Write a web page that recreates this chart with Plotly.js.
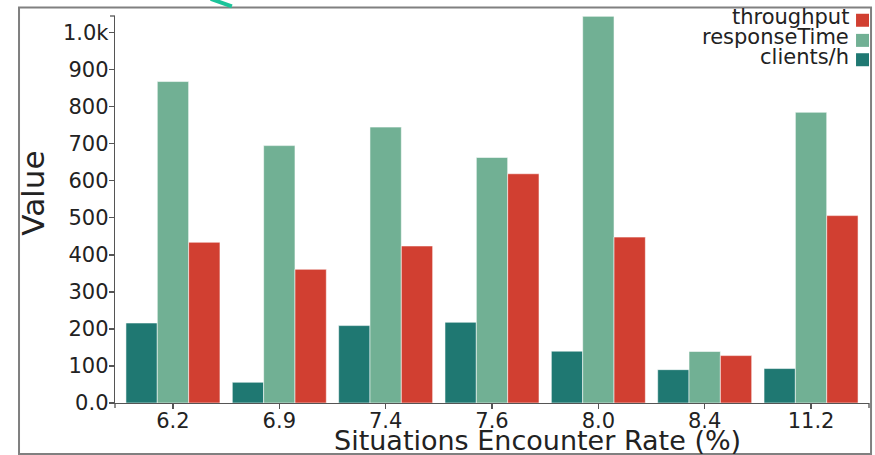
<!DOCTYPE html>
<html>
<head>
<meta charset="utf-8">
<script src="https://cdn.plot.ly/plotly-3.0.1.min.js"></script>
<style>html,body{margin:0;padding:0;background:#fff;}#chart{width:875px;height:455px;}</style>
</head>
<body>
<div id="chart"></div>
<script>
// ---- data ----
const categories = ['6.2', '6.9', '7.4', '7.6', '8.0', '8.4', '11.2'];
const seriesNames = ['clients/h', 'responseTime', 'throughput'];
const clientsPerHour = [216, 56, 209, 218, 140, 90, 93];
const responseTime = [868, 695, 745, 663, 1044, 139, 785];
const throughput = [434, 361, 424, 619, 448, 128, 506];
const seriesColors = ['#1f7872', '#71b094', '#d13f31'];
const yTickVals = [0, 100, 200, 300, 400, 500, 600, 700, 800, 900, 1000];
const yTickText = ['0.0', '100', '200', '300', '400', '500', '600', '700', '800', '900', '1.0k'];
const xTitle = 'Situations Encounter Rate (%)';
const yTitle = 'Value';

const seriesValues = [clientsPerHour, responseTime, throughput];
const FONT = 'DejaVu Sans, sans-serif';
const TXT = '#222222';
const AX = '#555555';

const traces = seriesNames.map((name, i) => ({
  type: 'bar',
  name: name,
  x: categories,
  y: seriesValues[i],
  marker: {color: seriesColors[i], line: {color: 'rgba(255,255,255,0.55)', width: 1}},
  hoverinfo: 'skip'
}));

// legend drawn as annotations + swatches (swatch to the right of text, reversed order)
const legendRowY = [0.997, 0.945, 0.895];
const annotations = [];
const shapes = [];
const legendOrder = [2, 1, 0];
legendOrder.forEach((si, r) => {
  annotations.push({
    xref: 'paper', yref: 'paper', x: 0.976, y: legendRowY[r],
    xanchor: 'right', yanchor: 'middle', showarrow: false,
    text: seriesNames[si], font: {family: FONT, size: 21, color: TXT}
  });
  shapes.push({
    type: 'rect', xref: 'paper', yref: 'paper',
    xsizemode: 'pixel', ysizemode: 'pixel',
    xanchor: 0.9828, yanchor: legendRowY[r] - 0.008,
    x0: 0, x1: 13, y0: -6.5, y1: 6.5,
    fillcolor: seriesColors[si], line: {width: 0}
  });
});

annotations.push({
  xref: 'paper', yref: 'paper', x: 0.561, y: -0.098,
  xanchor: 'center', yanchor: 'middle', showarrow: false,
  text: xTitle, font: {family: FONT, size: 27, color: TXT}
});
annotations.push({
  xref: 'paper', yref: 'paper', x: -0.109, y: 0.543,
  xanchor: 'center', yanchor: 'middle', showarrow: false, textangle: -90,
  text: yTitle, font: {family: FONT, size: 31, color: TXT}
});

// outer frame
shapes.push({
  type: 'rect', xref: 'paper', yref: 'paper', layer: 'below',
  x0: -0.1273, x1: 1.0027, y0: -0.1318, y1: 1.0220,
  line: {color: '#808080', width: 2}, fillcolor: 'rgba(0,0,0,0)'
});
// outer ticks at axis ends
shapes.push({type: 'line', xref: 'paper', yref: 'paper', xsizemode: 'pixel', xanchor: 0,
  x0: -5, x1: 0, y0: 1, y1: 1, line: {color: AX, width: 1.3}});
shapes.push({type: 'line', xref: 'paper', yref: 'paper', ysizemode: 'pixel', yanchor: 0,
  x0: 0, x1: 0, y0: 0, y1: -5, line: {color: AX, width: 1.3}});
shapes.push({type: 'line', xref: 'paper', yref: 'paper', ysizemode: 'pixel', yanchor: 0,
  x0: 1, x1: 1, y0: 0, y1: -5, line: {color: AX, width: 1.3}});
// stray green arrow fragment at top edge
shapes.push({type: 'line', xref: 'paper', yref: 'paper',
  x0: 0.127, x1: 0.155, y0: 1.044, y1: 1.025, line: {color: '#1cc49a', width: 4}});

const layout = {
  width: 875, height: 455,
  margin: {l: 115, r: 6, t: 16, b: 52, pad: 0},
  paper_bgcolor: '#ffffff', plot_bgcolor: '#ffffff',
  font: {family: FONT, color: TXT, size: 21},
  showlegend: false,
  barmode: 'group', bargap: 0.116, bargroupgap: 0,
  xaxis: {
    type: 'category', range: [-0.545, 6.545],
    showline: true, linecolor: AX, linewidth: 1.3,
    ticks: 'outside', ticklen: 5, tickcolor: AX, tickwidth: 1.3,
    ticklabelstandoff: -7,
    showgrid: false, zeroline: false,
    tickfont: {family: FONT, size: 21, color: TXT}
  },
  yaxis: {
    range: [0, 1045],
    tickmode: 'array', tickvals: yTickVals, ticktext: yTickText,
    showline: true, linecolor: AX, linewidth: 1.3,
    ticks: 'outside', ticklen: 5, tickcolor: AX, tickwidth: 1.3,
    ticklabelstandoff: -4,
    showgrid: false, zeroline: false,
    tickfont: {family: FONT, size: 21, color: TXT}
  },
  annotations: annotations,
  shapes: shapes
};

Plotly.newPlot('chart', traces, layout, {staticPlot: true, displayModeBar: false});
</script>
</body>
</html>
